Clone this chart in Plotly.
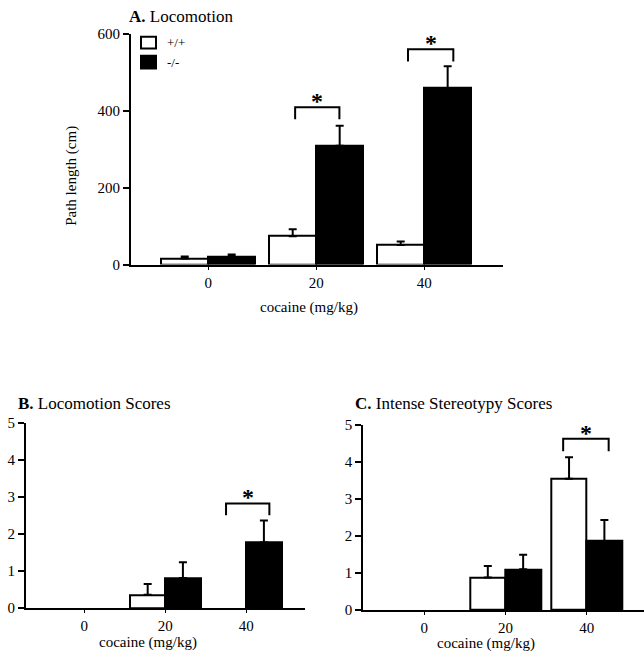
import plotly.graph_objects as go

# ---------------- data ----------------
doses = [0, 20, 40]
tick_labels = ["0", "20", "40"]

A_wt = [16, 74, 51]
A_wt_err = [5, 18, 9]
A_ko = [21, 309, 459]
A_ko_err = [5, 52, 57]

B_wt = [0, 0.36, 0]
B_wt_err = [0, 0.29, 0]
B_ko = [0, 0.81, 1.77]
B_ko_err = [0, 0.43, 0.60]

C_wt = [0, 0.88, 3.54]
C_wt_err = [0, 0.31, 0.58]
C_ko = [0, 1.10, 1.86]
C_ko_err = [0, 0.39, 0.57]

# significance brackets: (left x, right x, leg bottom, top)
A_sig = [(16.1, 24.3, 378, 409), (37.0, 45.4, 528, 560)]
B_sig = [(35.0, 45.7, 2.51, 2.83)]
C_sig = [(34.2, 45.4, 4.28, 4.62)]

# ---------------- layout helpers ----------------
W, H = 644, 659
FONT = "Liberation Serif"
BAR_W = 8.7


def fx(px):
    return px / W


def fy(py):
    return 1 - py / H


fig = go.Figure()

panels = [
    ("x", "y", A_wt, A_wt_err, A_ko, A_ko_err, A_sig),
    ("x2", "y2", B_wt, B_wt_err, B_ko, B_ko_err, B_sig),
    ("x3", "y3", C_wt, C_wt_err, C_ko, C_ko_err, C_sig),
]

for xa, ya, wt, wte, ko, koe, sig in panels:
    for vals, errs, off, fill, name in [(wt, wte, -BAR_W, "white", "+/+"),
                                         (ko, koe, 0, "black", "-/-")]:
        keep = [i for i, v in enumerate(vals) if v > 0]
        fig.add_trace(go.Bar(
            x=[doses[i] for i in keep], y=[vals[i] for i in keep],
            xaxis=xa, yaxis=ya, offset=off, width=BAR_W,
            marker=dict(color=fill, line=dict(color="black", width=2)),
            error_y=dict(type="data", symmetric=False,
                         array=[errs[i] for i in keep],
                         arrayminus=[0] * len(keep), color="black",
                         thickness=2, width=4),
            showlegend=False, name=name))
    for (l, r, b, t) in sig:
        fig.add_shape(type="path",
                      path=f"M {l},{b} L {l},{t} L {r},{t} L {r},{b}",
                      xref=xa, yref=ya, line=dict(color="black", width=2))
        fig.add_annotation(x=(l + r) / 2, y=t, xref=xa, yref=ya,
                           text="<b>*</b>", showarrow=False,
                           yanchor="bottom", yshift=-9,
                           font=dict(family=FONT, size=24, color="black"))

xaxis_common = dict(
    tickmode="array", tickvals=doses, ticktext=tick_labels,
    showline=True, linewidth=2, linecolor="black",
    ticks="outside", ticklen=3, tickwidth=1, tickcolor="black",
    showgrid=False, zeroline=False,
    tickfont=dict(family=FONT, size=15, color="black"),
)
yaxis_common = dict(
    showline=True, linewidth=2, linecolor="black",
    ticks="outside", ticklen=6, tickwidth=2, tickcolor="black",
    showgrid=False, zeroline=False,
    tickfont=dict(family=FONT, size=15, color="black"),
)

fig.update_layout(
    width=W, height=H,
    margin=dict(l=0, r=0, t=0, b=0),
    paper_bgcolor="white", plot_bgcolor="white",
    bargap=0,
    xaxis=dict(xaxis_common, domain=[fx(131), fx(503)], range=[-14.3, 54.6],
               anchor="y", ticklabelstandoff=0),
    yaxis=dict(yaxis_common, domain=[fy(263), fy(26.5)], range=[0, 600],
               tickvals=[0, 200, 400, 600], anchor="x"),
    xaxis2=dict(xaxis_common, domain=[fx(26), fx(305)], range=[-14.4, 54.5],
                anchor="y2", ticklabelstandoff=0),
    yaxis2=dict(yaxis_common, domain=[fy(615), fy(425.5)], range=[0, 5],
                tickvals=[0, 1, 2, 3, 4, 5], anchor="x2"),
    xaxis3=dict(xaxis_common, domain=[fx(363.3), 1.0], range=[-15.0, 54.1],
                anchor="y3", ticklabelstandoff=0),
    yaxis3=dict(yaxis_common, domain=[fy(617), fy(427)], range=[0, 5],
                tickvals=[0, 1, 2, 3, 4, 5], anchor="x3"),
)

# titles
titles = [("<b>A.</b> Locomotion", 127, 9),
          ("<b>B.</b> Locomotion Scores", 16, 405),
          ("<b>C.</b> Intense Stereotypy Scores", 353, 405)]
for txt, px, py in titles:
    fig.add_annotation(x=fx(px), y=fy(py), xref="paper", yref="paper",
                       text=txt, showarrow=False, xanchor="left", yanchor="middle",
                       font=dict(family=FONT, size=17, color="black"))

# x-axis titles
for px, py in [(308.5, 307), (147.5, 650), (486, 651)]:
    fig.add_annotation(x=fx(px), y=fy(py), xref="paper", yref="paper",
                       text="cocaine (mg/kg)", showarrow=False,
                       xanchor="center", yanchor="middle",
                       font=dict(family=FONT, size=15, color="black"))

# y-axis title for A
fig.add_annotation(x=fx(72), y=fy(172), xref="paper", yref="paper",
                   text="Path length (cm)", showarrow=False, textangle=-90,
                   xanchor="center", yanchor="middle",
                   font=dict(family=FONT, size=15, color="black"))

# legend (panel A)
fig.add_shape(type="rect", xref="paper", yref="paper",
              x0=fx(141), x1=fx(156), y0=fy(41.5), y1=fy(29.5),
              fillcolor="white", line=dict(color="black", width=2))
fig.add_shape(type="rect", xref="paper", yref="paper",
              x0=fx(141), x1=fx(156), y0=fy(62), y1=fy(49),
              fillcolor="black", line=dict(color="black", width=2))
for txt, py in [("+/+", 35.5), ("-/-", 55.5)]:
    fig.add_annotation(x=fx(165), y=fy(py), xref="paper", yref="paper",
                       text=txt, showarrow=False, xanchor="left", yanchor="middle",
                       font=dict(family=FONT, size=13, color="black"))

fig.write_html("out.html")
